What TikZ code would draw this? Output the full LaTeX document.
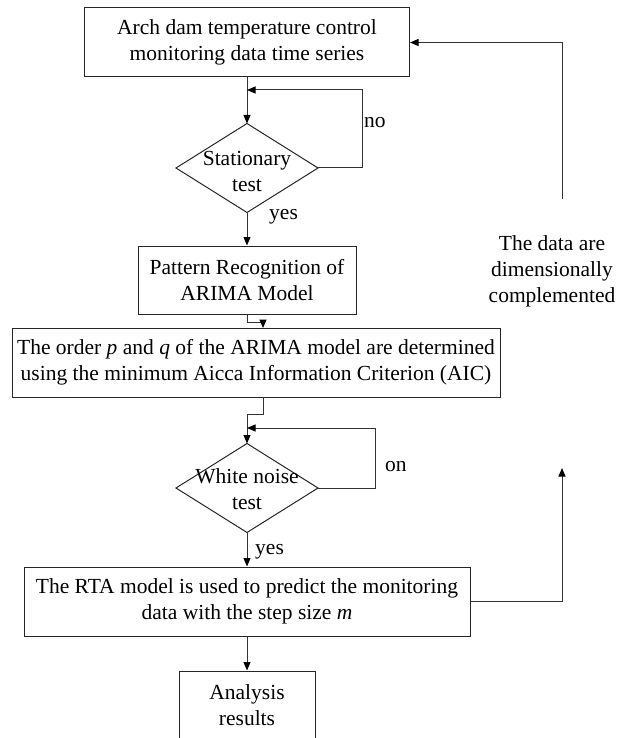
\documentclass[tikz,border=0pt]{standalone}
\usepackage{fontspec}
\setmainfont{Liberation Serif}
\usetikzlibrary{arrows.meta,shapes.geometric}
\begin{document}
\begin{tikzpicture}[x=1pt,y=-1pt,
  txt/.style={font=\fontsize{21.5}{26}\selectfont, inner sep=0pt, align=center, text=black},
  box/.style={txt, draw=black!85, line width=1pt, minimum height=69pt},
  dia/.style={diamond, draw=black!85, line width=1pt, inner sep=0pt, outer sep=0pt, minimum width=142pt, minimum height=89pt},
  line/.style={draw=black!80, line width=1pt},
  arr/.style={line, -{Triangle[length=8.5pt,width=7pt,fill=black,color=black]}}]
\useasboundingbox (0,0) rectangle (627,738);
\clip (0,0) rectangle (627,738);
% boxes
\node[box, minimum width=325pt] (top) at (247,42.5) {Arch dam temperature control\\monitoring data time series};
\node[dia] (d1) at (247,168) {};
\node[txt] (d1t) at (247,171) {Stationary\\test};
\node[box, minimum width=218pt, minimum height=68pt] (pat) at (247,280) {Pattern Recognition of\\ARIMA Model};
\node[box, minimum width=488pt] (aic) at (256,362.5) {The order \textit{p} and \textit{q} of the ARIMA model are determined\\using the minimum Aicca Information Criterion (AIC)};
\node[dia] (d2) at (247,488) {};
\node[txt] (d2t) at (247,489) {White noise\\test};
\node[box, minimum width=446pt] (rta) at (247,601.5) {The RTA model is used to predict the monitoring\\data with the step size \textit{m}};
\node[box, minimum width=136pt] (ana) at (247,705.5) {Analysis\\results};
% labels
\node[txt, anchor=west] (no) at (364,123) {no};
\node[txt, anchor=west] (yes1) at (269,217) {yes};
\node[txt, anchor=west] (on) at (385,467) {on};
\node[txt, anchor=west] (yes2) at (255,552) {yes};
\node[txt] (note) at (552,271) {The data are\\dimensionally\\complemented};
% coordinates
\coordinate (j1) at (247,90);
\coordinate (c1) at (362,90);
\coordinate (j2) at (247,428);
\coordinate (c2) at (375,428);
\coordinate (aicin) at (263,328);
\coordinate (aicout) at (263,397);
\coordinate (fbtip) at (562,468);
\coordinate (fbstart) at (562,199);
% connectors
\draw[arr] (top.south) -- (d1.north);
\draw[arr] (d1.east) -| (c1) -- (j1);
\draw[arr] (d1.south) -- (pat.north);
\draw[arr] (pat.south) -- ++(0,8) -| (aicin);
\draw[arr] (aicout) -- ++(0,17) -| (d2.north);
\draw[arr] (d2.east) -| (c2) -- (j2);
\draw[arr] (d2.south) -- (rta.north);
\draw[arr] (rta.south) -- (ana.north);
\draw[arr] (rta.east) -| (fbtip);
\draw[arr] (fbstart) |- (top.east);
\end{tikzpicture}
\end{document}
